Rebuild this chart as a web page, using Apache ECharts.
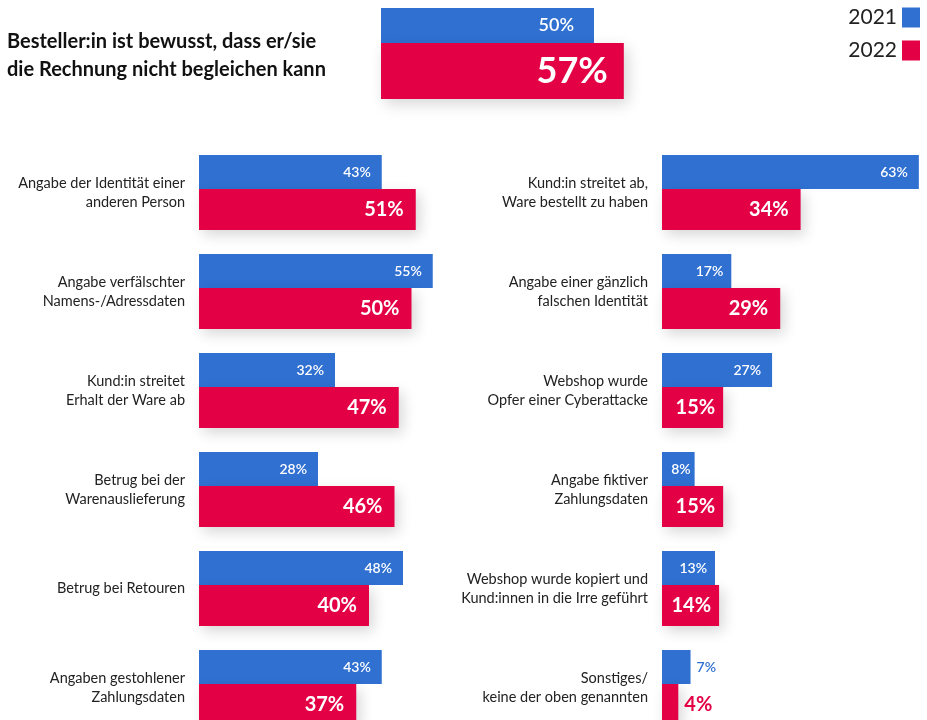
<!DOCTYPE html>
<html>
<head>
<meta charset="utf-8">
<script src="https://cdn.jsdelivr.net/npm/echarts@6/dist/echarts.min.js"></script>
<style>
  html, body { margin: 0; padding: 0; background: #fff; }
  #chart { width: 927px; height: 720px; }
</style>
</head>
<body>
<div id="chart"></div>
<script>
// Werte aus der Grafik
const years = ['2021', '2022']
const topTitle = 'Besteller:in ist bewusst, dass er/sie\ndie Rechnung nicht begleichen kann'
const topCat = ['bewusst']
const top2021 = [50]
const top2022 = [57]

const leftCats = [
  'Angabe der Identität einer\nanderen Person',
  'Angabe verfälschter\nNamens-/Adressdaten',
  'Kund:in streitet\nErhalt der Ware ab',
  'Betrug bei der\nWarenauslieferung',
  'Betrug bei Retouren',
  'Angaben gestohlener\nZahlungsdaten'
]
const left2021 = [43, 55, 32, 28, 48, 43]
const left2022 = [51, 50, 47, 46, 40, 37]

const rightCats = [
  'Kund:in streitet ab,\nWare bestellt zu haben',
  'Angabe einer gänzlich\nfalschen Identität',
  'Webshop wurde\nOpfer einer Cyberattacke',
  'Angabe fiktiver\nZahlungsdaten',
  'Webshop wurde kopiert und\nKund:innen in die Irre geführt',
  'Sonstiges/\nkeine der oben genannten'
]
const right2021 = [63, 17, 27, 8, 13, 7]
const right2022 = [34, 29, 15, 15, 14, 4]

const BLUE = '#2f70d1'
const RED = '#e30045'
const FONT = 'Lato'

// kleine Balken: Label enger an das Ende, ganz kleine außen
function withLabels(values, color) {
  return values.map(v => {
    if (v < 8) return {value: v, label: {position: 'right', distance: 6, color: color}}
    if (v < 10) return {value: v, label: {distance: 4}}
    if (v < 20) return {value: v, label: {distance: 8}}
    return v
  })
}

function hiddenX(idx, max) {
  return {gridIndex: idx, type: 'value', min: 0, max: max, show: false}
}
function catY(idx, cats, showLabels, gap) {
  return {
    gridIndex: idx, type: 'category', data: cats, inverse: true, boundaryGap: gap,
    axisLine: {show: false}, axisTick: {show: false}, splitLine: {show: false},
    axisLabel: {
      show: showLabels, margin: 14, fontSize: 14.5, lineHeight: 19,
      color: '#222', fontFamily: FONT, align: 'right'
    }
  }
}

function blueSeries(idx, values, fontSize, dist) {
  return {
    name: years[0], type: 'bar', xAxisIndex: idx, yAxisIndex: idx,
    data: withLabels(values, BLUE),
    barWidth: idx === 0 ? 35 : 34, barGap: 0,
    itemStyle: {color: BLUE},
    label: {
      show: true, position: 'insideRight', distance: dist, formatter: '{c}%',
      color: '#fff', fontSize: fontSize, fontWeight: 600, fontFamily: FONT
    },
    z: 2
  }
}
function redSeries(idx, values, fontSize, dist) {
  return {
    name: years[1], type: 'bar', xAxisIndex: idx, yAxisIndex: idx,
    data: withLabels(values, RED),
    barWidth: idx === 0 ? 56 : 41, barGap: 0,
    itemStyle: {
      color: RED, shadowBlur: 14, shadowColor: 'rgba(0,0,0,0.16)',
      shadowOffsetX: 4, shadowOffsetY: 5
    },
    label: {
      show: true, position: 'insideRight', distance: dist, formatter: '{c}%',
      color: '#fff', fontSize: fontSize, fontWeight: 'bold', fontFamily: FONT
    },
    z: 3
  }
}

const chart = echarts.init(document.getElementById('chart'))
chart.setOption({
  animation: false,
  backgroundColor: '#fff',
  title: {
    text: topTitle, left: 7, top: 28, padding: 0,
    textStyle: {fontSize: 20, fontWeight: 'bold', lineHeight: 28, color: '#111', fontFamily: FONT}
  },
  legend: {
    data: years, orient: 'vertical', right: 7, top: 7, align: 'right', padding: 0,
    icon: 'rect', itemWidth: 18, itemHeight: 20, itemGap: 12,
    textStyle: {fontSize: 21, color: '#222', fontFamily: FONT}
  },
  grid: [
    {left: 381, width: 426, top: 8, height: 91},
    {left: 199, width: 425, top: 192.5, height: 495},
    {left: 662, right: 0, top: 192.5, height: 495}
  ],
  xAxis: [hiddenX(0, 100), hiddenX(1, 100), hiddenX(2, 65)],
  yAxis: [
    catY(0, topCat, false, true),
    catY(1, leftCats, true, false),
    catY(2, rightCats, true, false)
  ],
  series: [
    blueSeries(0, top2021, 18, 20),
    redSeries(0, top2022, 36, 16),
    blueSeries(1, left2021, 14, 11),
    redSeries(1, left2022, 20, 12),
    blueSeries(2, right2021, 14, 11),
    redSeries(2, right2022, 20, 12)
  ]
})
</script>
</body>
</html>
